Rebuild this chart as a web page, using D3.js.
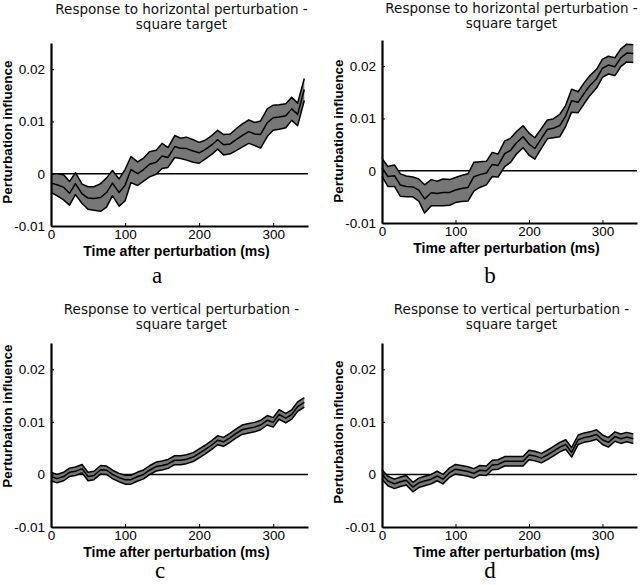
<!DOCTYPE html>
<html>
<head>
<meta charset="utf-8">
<script src="https://cdn.jsdelivr.net/npm/d3@7"></script>
<style>
  body { margin: 0; background: #fff; }
</style>
</head>
<body>
<div id="chart"></div>
<script>
// sample times (ms)
var times = [0, 8, 17, 25, 33, 42, 50, 58, 67, 75, 83, 92, 100, 108, 117, 125, 133, 142, 150, 158, 167,
             175, 183, 192, 200, 208, 217, 225, 233, 242, 250, 258, 267, 275, 283, 292, 300, 308, 317, 325, 333, 342];

// mean and error half-width, in units of 0.001
var meanA = [-1.8, -2.1, -2.6, -3.75, -1.9, -3.85, -4.65, -4.75, -4.55, -3.6, -1.8, -3.6, -2.2, 0.8, 0, 0.8, 1.8, 2.2, 3.4, 3.1, 5.2,
             4.85, 4.8, 4.35, 4.0, 4.6, 5.5, 6.5, 5.55, 5.7, 6.5, 7.3, 8.05, 7.6, 7.5, 9.75, 10.7, 10.85, 11.1, 12.4, 11.35, 16.1];
var errA  = [1.8, 2.1, 2.4, 2.25, 2.1, 1.85, 2.15, 2.25, 2.65, 2.8, 2.4, 2.6, 3.0, 2.5, 2.25, 2.2, 2.4, 2.3, 2.4, 1.9, 2.1,
             1.95, 2.2, 2.15, 2.0, 1.8, 1.8, 1.8, 1.95, 1.9, 2.1, 2.2, 2.25, 2.2, 2.6, 2.65, 2.4, 2.35, 2.3, 2.2, 2.15, 2.1];

var meanB = [0.6, -1.1, -0.95, -2.75, -3.0, -3.1, -3.7, -5.4, -4.2, -4.35, -4.15, -4.15, -3.7, -3.4, -3.2, -1.15, -0.75, -0.45, 1.2, 1.0, 3.25,
             3.9, 5.35, 6.5, 5.1, 4.25, 6.2, 7.9, 8.1, 8.65, 10.5, 13.4, 13.1, 14.8, 16.3, 17.6, 19.6, 20.2, 19.9, 21.6, 22.5, 22.4];
var errB  = [1.75, 1.9, 2.05, 2.15, 2.0, 1.9, 2.1, 2.7, 2.5, 2.35, 2.55, 2.45, 2.4, 2.5, 2.6, 2.75, 2.45, 2.25, 2.3, 2.2, 2.45,
             2.3, 2.15, 2.1, 2.1, 2.05, 1.9, 1.8, 1.8, 2.15, 2.0, 2.2, 2.0, 2.0, 1.9, 1.8, 1.75, 1.7, 1.7, 1.7, 1.7, 1.7];

var meanC = [-0.4, -0.8, -0.4, 0.4, 0.6, 1.1, -0.4, -0.2, 0.9, 0.8, 0, -0.6, -1.0, -1.0, -0.4, 0, 0.8, 1.5, 1.7, 2.0, 2.7,
             2.7, 2.9, 3.3, 4.0, 4.7, 5.6, 6.5, 6.2, 7.0, 7.8, 8.5, 8.8, 9.0, 9.4, 10.3, 9.9, 11.4, 10.7, 11.4, 12.9, 13.7];
var errC  = [0.8, 0.8, 0.8, 0.8, 0.8, 0.8, 0.8, 0.8, 0.8, 0.8, 0.8, 0.8, 0.85, 0.85, 0.85, 0.85, 0.85, 0.85, 0.85, 0.85, 0.85,
             0.85, 0.85, 0.85, 0.85, 0.85, 0.85, 0.85, 0.85, 0.85, 0.85, 0.9, 0.9, 0.9, 0.9, 0.9, 0.9, 0.9, 0.9, 0.9, 0.9, 0.9];

var meanD = [0, -1.25, -1.8, -1.4, -1.1, -2.4, -1.6, -1.25, -0.9, -0.3, -0.9, 0.35, 1.0, 0.8, 0.55, 0.2, 0.8, 0.7, 1.8, 1.9, 2.5,
             2.5, 2.5, 2.5, 3.7, 3.5, 3.1, 3.7, 4.4, 5.2, 5.7, 4.2, 6.6, 7.0, 7.2, 7.6, 6.6, 6.1, 7.2, 6.8, 7.1, 6.8];
var errD  = [0.9, 0.9, 0.9, 0.9, 0.9, 0.9, 0.9, 0.9, 0.9, 0.9, 0.9, 0.9, 0.9, 0.9, 0.9, 0.9, 0.9, 0.9, 0.9, 0.9, 0.9,
             0.9, 0.9, 0.9, 0.9, 0.9, 0.9, 0.9, 0.9, 0.9, 0.9, 0.9, 0.9, 0.9, 0.9, 0.9, 0.9, 0.9, 0.9, 0.9, 0.9, 0.9];

var xTicks = [0, 100, 200, 300];
var yTicks = [-0.01, 0, 0.01, 0.02];
var yTickLabels = ["-0.01", "0", "0.01", "0.02"];
var titleHoriz = ["Response to horizontal perturbation -", "square target"];
var titleVert = ["Response to vertical perturbation -", "square target"];
var xLabel = "Time after perturbation (ms)";
var yLabel = "Perturbation influence";

var w = 640, h = 585;
var svg = d3.select("#chart").append("svg")
  .attr("width", w)
  .attr("height", h);

var panels = [
  {mean: meanA, err: errA, title: titleHoriz, letter: "a", left: 51, right: 308, top: 43, bottom: 226,
   tY: 14, ylx: 12, yly: 132, lx: 157, ly: 283},
  {mean: meanB, err: errB, title: titleHoriz, letter: "b", left: 382, right: 637, top: 40, bottom: 223,
   tY: 13, ylx: 343, yly: 131, lx: 490, ly: 283},
  {mean: meanC, err: errC, title: titleVert, letter: "c", left: 51, right: 308, top: 343, bottom: 527,
   tY: 314, ylx: 12, yly: 416, lx: 160, ly: 578},
  {mean: meanD, err: errD, title: titleVert, letter: "d", left: 382, right: 637, top: 343, bottom: 527,
   tY: 314, ylx: 343, yly: 432, lx: 490, ly: 578}
];

panels.forEach(function(p) {
  var x = d3.scaleLinear().domain([0, 347]).range([p.left, p.right]);
  var y = d3.scaleLinear().domain([-0.01, 0.025]).range([p.bottom, p.top]);
  var g = svg.append("g");

  var pts = times.map(function(t, i) {
    return {t: t, m: p.mean[i] * 1e-3, e: p.err[i] * 1e-3};
  });

  // zero reference line
  g.append("line")
    .attr("x1", x(0)).attr("x2", x(347))
    .attr("y1", y(0)).attr("y2", y(0))
    .attr("stroke", "#000")
    .attr("stroke-width", 1.5);

  var area = d3.area()
    .x(function(d) { return x(d.t); })
    .y0(function(d) { return y(d.m - d.e); })
    .y1(function(d) { return y(d.m + d.e); });

  g.append("path")
    .datum(pts)
    .attr("d", area)
    .attr("fill", "#777");

  [-1, 0, 1].forEach(function(k) {
    var line = d3.line()
      .x(function(d) { return x(d.t); })
      .y(function(d) { return y(d.m + k * d.e); });
    g.append("path")
      .datum(pts)
      .attr("d", line)
      .attr("fill", "none")
      .attr("stroke", "#000")
      .attr("stroke-width", 1.5)
      .attr("stroke-linejoin", "round");
  });

  // axes
  var yAxis = d3.axisLeft(y)
    .tickValues(yTicks)
    .tickFormat(function(d, i) { return yTickLabels[i]; })
    .tickSizeInner(-3)
    .tickSizeOuter(0)
    .tickPadding(6);
  var ya = g.append("g")
    .attr("transform", "translate(" + p.left + ",0)")
    .call(yAxis);

  var xAxis = d3.axisBottom(x)
    .tickValues(xTicks)
    .tickSizeInner(-3)
    .tickSizeOuter(0)
    .tickPadding(3);
  var xa = g.append("g")
    .attr("transform", "translate(0," + p.bottom + ")")
    .call(xAxis);

  [ya, xa].forEach(function(a) {
    a.select(".domain").attr("stroke", "#000").attr("stroke-width", 2.2);
    a.selectAll(".tick line").attr("stroke", "#000").attr("stroke-width", 1);
    a.selectAll(".tick text")
      .attr("fill", "#000")
      .style("font-family", "Liberation Sans, Arial, sans-serif")
      .style("font-size", "13.5px");
  });

  // title
  p.title.forEach(function(s, i) {
    g.append("text")
      .attr("x", (p.left + p.right) / 2 + 2)
      .attr("y", p.tY + i * 15)
      .attr("text-anchor", "middle")
      .style("font-family", "DejaVu Sans, sans-serif")
      .style("font-size", "13.5px")
      .attr("fill", "#111")
      .text(s);
  });

  // axis labels
  g.append("text")
    .attr("x", (p.left + p.right) / 2 - 3)
    .attr("y", p.bottom + 30)
    .attr("text-anchor", "middle")
    .style("font-family", "Liberation Sans, Arial, sans-serif")
    .style("font-size", "14px")
    .style("font-weight", "bold")
    .text(xLabel);

  g.append("text")
    .attr("transform", "translate(" + p.ylx + "," + p.yly + ") rotate(-90)")
    .attr("text-anchor", "middle")
    .style("font-family", "Liberation Sans, Arial, sans-serif")
    .style("font-size", "13.5px")
    .style("font-weight", "bold")
    .text(yLabel);

  // panel letter
  g.append("text")
    .attr("x", p.lx)
    .attr("y", p.ly)
    .attr("text-anchor", "middle")
    .style("font-family", "Liberation Serif, Times New Roman, serif")
    .style("font-size", "23px")
    .text(p.letter);
});
</script>
</body>
</html>
